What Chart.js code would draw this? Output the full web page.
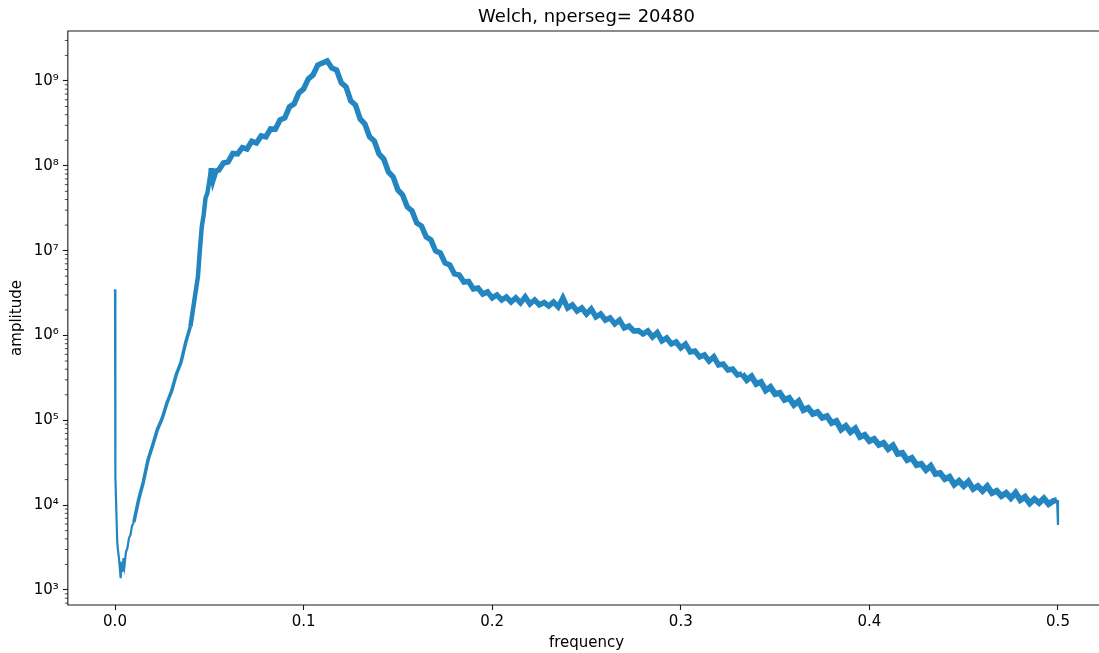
<!DOCTYPE html>
<html>
<head>
<meta charset="utf-8">
<script src="https://cdn.jsdelivr.net/npm/chart.js@4.4.1/dist/chart.umd.min.js"></script>
<style>
  html, body { margin: 0; padding: 0; background: #ffffff; overflow: hidden; }
  #wrap { position: relative; width: 1106px; height: 653px; }
</style>
</head>
<body>
<div id="wrap"><canvas id="psd" width="1106" height="653"></canvas></div>
<script>
// Welch power spectral density estimate (nperseg = 20480)
const frequency = [
  0, 0.0002, 0.0012, 0.0017, 0.0022, 0.003, 0.0035, 0.004, 0.0045, 0.005,
  0.0058, 0.0066, 0.0074, 0.0082, 0.009, 0.01, 0.0125, 0.015, 0.0175, 0.02,
  0.0225, 0.025, 0.0275, 0.03, 0.0325, 0.035, 0.0375, 0.04, 0.0425, 0.044,
  0.045, 0.046, 0.047, 0.048, 0.049, 0.05, 0.051, 0.052, 0.0535, 0.055,
  0.0575, 0.06, 0.0625, 0.065, 0.0675, 0.07, 0.0725, 0.075, 0.0775, 0.08,
  0.0825, 0.085, 0.0875, 0.09, 0.0925, 0.095, 0.0975, 0.1, 0.1025, 0.105,
  0.1075, 0.11, 0.1125, 0.115, 0.1175, 0.12, 0.1225, 0.125, 0.1275, 0.13,
  0.1325, 0.135, 0.1375, 0.14, 0.1425, 0.145, 0.1475, 0.15, 0.1525, 0.155,
  0.1575, 0.16, 0.1625, 0.165, 0.1675, 0.17, 0.1725, 0.175, 0.1775, 0.18,
  0.1825, 0.185, 0.1875, 0.19, 0.1925, 0.195, 0.1975, 0.2, 0.2025, 0.205,
  0.2075, 0.21, 0.2125, 0.215, 0.2175, 0.22, 0.2225, 0.225, 0.2275, 0.23,
  0.2325, 0.235, 0.2375, 0.24, 0.2425, 0.245, 0.2475, 0.25, 0.2525, 0.255,
  0.2575, 0.26, 0.2625, 0.265, 0.2675, 0.27, 0.2725, 0.275, 0.2775, 0.28,
  0.2825, 0.285, 0.2875, 0.29, 0.2925, 0.295, 0.2975, 0.3, 0.3025, 0.305,
  0.3075, 0.31, 0.3125, 0.315, 0.3175, 0.32, 0.3225, 0.325, 0.3275, 0.33,
  0.3325, 0.335, 0.3375, 0.34, 0.3425, 0.345, 0.3475, 0.35, 0.3525, 0.355,
  0.3575, 0.36, 0.3625, 0.365, 0.3675, 0.37, 0.3725, 0.375, 0.3775, 0.38,
  0.3825, 0.385, 0.3875, 0.39, 0.3925, 0.395, 0.3975, 0.4, 0.4025, 0.405,
  0.4075, 0.41, 0.4125, 0.415, 0.4175, 0.42, 0.4225, 0.425, 0.4275, 0.43,
  0.4325, 0.435, 0.4375, 0.44, 0.4425, 0.445, 0.4475, 0.45, 0.4525, 0.455,
  0.4575, 0.46, 0.4625, 0.465, 0.4675, 0.47, 0.4725, 0.475, 0.4775, 0.48,
  0.4825, 0.485, 0.4875, 0.49, 0.4925, 0.495, 0.4975, 0.4995, 0.5
];

const amplitude = [
  3.5e6, 2.15e4, 3.58e3, 2.8e3, 2.25e3, 1.38e3, 2.14e3, 1.63e3, 2.38e3, 1.92e3,
  2.8e3, 3.13e3, 4.1e3, 4.45e3, 5.68e3, 6.3e3, 1.15e4, 1.87e4, 3.4e4, 5.1e4,
  7.8e4, 1.05e5, 1.59e5, 2.2e5, 3.47e5, 4.83e5, 8.3e5, 1.28e6, 3.0e6, 5.0e6,
  1.02e7, 1.9e7, 2.63e7, 4.18e7, 4.78e7, 6.6e7, 9.4e7, 6.8e7, 8.7e7, 8.9e7,
  1.08e8, 1.11e8, 1.4e8, 1.38e8, 1.64e8, 1.58e8, 1.94e8, 1.86e8, 2.25e8, 2.19e8,
  2.72e8, 2.7e8, 3.47e8, 3.66e8, 4.94e8, 5.36e8, 7.22e8, 8.05e8, 1.056e9, 1.177e9,
  1.54e9, 1.63e9, 1.72e9, 1.423e9, 1.348e9, 9.47e8, 8.5e8, 5.81e8, 5.21e8, 3.56e8,
  3.11e8, 2.19e8, 1.96e8, 1.38e8, 1.2e8, 8.46e7, 7.39e7, 5.19e7, 4.53e7, 3.27e7,
  2.93e7, 2.12e7, 1.95e7, 1.45e7, 1.34e7, 9.9e6, 9.38e6, 7.15e6, 6.78e6, 5.31e6,
  5.17e6, 4.27e6, 4.33e6, 3.53e6, 3.63e6, 3.08e6, 3.26e6, 2.77e6, 3.0e6, 2.62e6,
  2.84e6, 2.48e6, 2.77e6, 2.42e6, 2.85e6, 2.35e6, 2.62e6, 2.29e6, 2.45e6, 2.23e6,
  2.48e6, 2.17e6, 2.77e6, 2.11e6, 2.29e6, 1.94e6, 2.11e6, 1.79e6, 2.05e6, 1.65e6,
  1.79e6, 1.52e6, 1.61e6, 1.37e6, 1.52e6, 1.23e6, 1.29e6, 1.13e6, 1.14e6, 1.04e6,
  1.13e6, 9.6e5, 1.08e6, 8.61e5, 9.34e5, 7.94e5, 8.38e5, 7.12e5, 7.9e5, 6.39e5,
  6.57e5, 5.58e5, 5.89e5, 5.0e5, 5.6e5, 4.49e5, 4.61e5, 3.92e5, 4.03e5, 3.42e5,
  3.52e5, 2.99e5, 3.3e5, 2.68e5, 2.83e5, 2.25e5, 2.47e5, 2.04e5, 2.1e5, 1.74e5,
  1.83e5, 1.52e5, 1.68e5, 1.32e5, 1.4e5, 1.19e5, 1.25e5, 1.07e5, 1.12e5, 9.3e4,
  9.8e4, 7.8e4, 8.57e4, 7.28e4, 8.0e4, 6.36e4, 6.71e4, 5.7e4, 6.02e4, 5.12e4,
  5.4e4, 4.59e4, 5.05e4, 4.01e4, 4.12e4, 3.4e4, 3.6e4, 2.97e4, 3.06e4, 2.6e4,
  2.9e4, 2.33e4, 2.39e4, 2.03e4, 2.15e4, 1.75e4, 1.93e4, 1.68e4, 1.9e4, 1.55e4,
  1.68e4, 1.47e4, 1.67e4, 1.39e4, 1.47e4, 1.28e4, 1.39e4, 1.21e4, 1.4e4, 1.15e4,
  1.25e4, 1.05e4, 1.18e4, 1.06e4, 1.2e4, 1.03e4, 1.12e4, 1.15e4, 5.83e3
];

const xTickValues = [0, 0.1, 0.2, 0.3, 0.4, 0.5];
const xTickLabels = ['0.0', '0.1', '0.2', '0.3', '0.4', '0.5'];
const yTickValues = [1e3, 1e4, 1e5, 1e6, 1e7, 1e8, 1e9];
const yTickLabels = ['10\u00B3', '10\u2074', '10\u2075', '10\u2076', '10\u2077', '10\u2078', '10\u2079'];

const chartTitle = 'Welch, nperseg= 20480';
const xAxisTitle = 'frequency';
const yAxisTitle = 'amplitude';

const FONT = '"DejaVu Sans", "Liberation Sans", sans-serif';
const LINE_COLOR = '#2386c0';

// minor ticks of the log axis: 2..9 x 10^k
const yMinorTicks = [];
for (let k = 2; k <= 9; k++) {
  for (let m = 2; m <= 9; m++) yMinorTicks.push(m * Math.pow(10, k));
}

const points = frequency.map((f, i) => ({ x: f, y: amplitude[i] }));
const lastSegment = points.length - 2;

// stroke width per segment: thin near DC and at the Nyquist end, broader where the estimate is noisy
function segmentWidth(ctx) {
  const i = ctx.p0DataIndex;
  if (i < 15 || i >= lastSegment) return 2.2;
  if (i < 27) return 3.5;
  if (i < 36) return 4.5;
  if (i < 150) return 5.5;
  return 6;
}

// frame (spines), minor ticks and the title
const framePlugin = {
  id: 'frame',
  afterDraw(chart) {
    const { ctx, chartArea: a } = chart;
    const y = chart.scales.y;
    ctx.save();
    ctx.strokeStyle = '#1a1a1a';
    ctx.lineWidth = 1.1;
    ctx.beginPath();
    ctx.moveTo(a.left, a.bottom + 0.5);
    ctx.lineTo(a.left, a.top);
    ctx.lineTo(a.right + 2, a.top);
    ctx.moveTo(a.left - 0.5, a.bottom);
    ctx.lineTo(a.right + 2, a.bottom);
    ctx.stroke();

    ctx.lineWidth = 0.8;
    ctx.beginPath();
    for (const v of yMinorTicks) {
      const py = y.getPixelForValue(v);
      if (py < a.top || py > a.bottom) continue;
      ctx.moveTo(a.left - 3, py);
      ctx.lineTo(a.left, py);
    }
    ctx.stroke();

    ctx.fillStyle = '#000';
    ctx.font = '18px ' + FONT;
    ctx.textAlign = 'center';
    ctx.textBaseline = 'middle';
    ctx.fillText(chartTitle, (a.left + a.right) / 2, 17);
    ctx.restore();
  }
};

new Chart(document.getElementById('psd'), {
  type: 'line',
  data: {
    datasets: [{
      data: points,
      borderColor: LINE_COLOR,
      borderWidth: 5.5,
      pointRadius: 0,
      tension: 0,
      fill: false,
      borderJoinStyle: 'miter',
      borderCapStyle: 'butt',
      segment: { borderWidth: segmentWidth }
    }]
  },
  options: {
    responsive: false,
    animation: false,
    devicePixelRatio: 1,
    layout: { padding: { top: 31, right: 0.85, bottom: 0, left: 0 } },
    plugins: { legend: { display: false }, tooltip: { enabled: false }, title: { display: false } },
    scales: {
      x: {
        type: 'linear',
        min: -0.025,
        max: 0.525,
        afterBuildTicks: s => { s.ticks = xTickValues.map(v => ({ value: v })); },
        afterFit: s => { s.height = 48; },
        ticks: {
          callback: v => xTickLabels[xTickValues.indexOf(v)],
          font: { family: FONT, size: 15 },
          color: '#000',
          padding: 3,
          maxRotation: 0,
          autoSkip: false
        },
        grid: { display: true, drawOnChartArea: false, drawTicks: true, tickLength: 5, tickWidth: 1.1, tickColor: '#1a1a1a' },
        border: { display: false },
        title: { display: true, text: xAxisTitle, font: { family: FONT, size: 15 }, color: '#000', padding: { top: 0, bottom: 1 } }
      },
      y: {
        type: 'logarithmic',
        min: 665,
        max: 3.88e9,
        afterBuildTicks: s => { s.ticks = yTickValues.map(v => ({ value: v })); },
        afterFit: s => { s.width = 67.85; },
        ticks: {
          callback: v => yTickLabels[yTickValues.indexOf(v)],
          font: { family: FONT, size: 15 },
          color: '#000',
          padding: 4,
          autoSkip: false
        },
        grid: { display: true, drawOnChartArea: false, drawTicks: true, tickLength: 5, tickWidth: 1.1, tickColor: '#1a1a1a' },
        border: { display: false },
        title: { display: true, text: yAxisTitle, font: { family: FONT, size: 15 }, color: '#000', padding: { top: 8, bottom: 0 } }
      }
    }
  },
  plugins: [framePlugin]
});
</script>
</body>
</html>
